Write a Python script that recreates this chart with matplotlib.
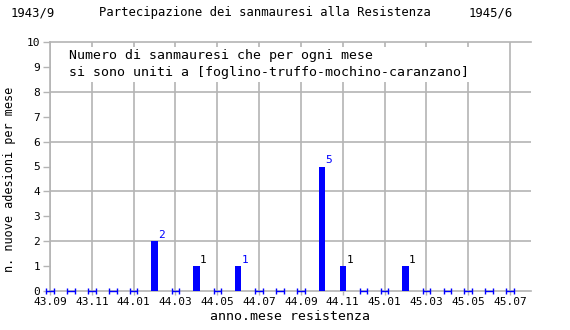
import matplotlib
matplotlib.use("Agg")
from matplotlib import pyplot as plt
import numpy as np

months = ["43.09", "43.10", "43.11", "43.12", "44.01", "44.02", "44.03", "44.04",
          "44.05", "44.06", "44.07", "44.08", "44.09", "44.10", "44.11", "44.12",
          "45.01", "45.02", "45.03", "45.04", "45.05", "45.06", "45.07"]
adesioni = [0, 0, 0, 0, 0, 2, 0, 1, 0, 1, 0, 0, 0, 5, 1, 0, 0, 1, 0, 0, 0, 0, 0]
label_colors = {5: "blue", 7: "black", 9: "blue", 13: "blue", 14: "black", 17: "black"}

plt.rcParams['font.family'] = ['DejaVu Sans Mono']
grey = "#b4b4b4"

fig = plt.figure(figsize=(5.7, 3.3), dpi=100)
ax = fig.add_axes([50 / 570, 1 - 291 / 330, 481 / 570, 249 / 330])

x = np.arange(len(months))
vals = np.array(adesioni)

ax.set_xlim(0, len(months))
ax.set_ylim(0, 10)

ax.set_xticks(x[::2])
ax.set_xticklabels(months[::2], fontsize=8)
ax.set_yticks(range(0, 11))
ax.set_yticklabels([str(i) for i in range(0, 11)], fontsize=8)
for yy in range(2, 10, 2):
    ax.axhline(yy, color=grey, lw=1.2, zorder=1)
for xx in x[::2]:
    ax.axvline(xx, color=grey, lw=1.2, zorder=1)

for s in ["right", "bottom"]:
    ax.spines[s].set_visible(False)
ax.spines["top"].set_color(grey)
ax.spines["left"].set_color(grey)
ax.spines["top"].set_linewidth(1.2)
ax.spines["left"].set_linewidth(1.2)
ax.spines["top"].set_zorder(5)
ax.axhline(0, color=grey, lw=1.2, zorder=1, clip_on=False)
ax.tick_params(axis="y", colors=grey, labelcolor="black", length=5, width=1, pad=2)
ax.tick_params(axis="x", colors=grey, labelcolor="black", length=3, width=1, pad=1.5)

nz = vals > 0
ax.bar(x[nz], vals[nz], width=0.3, color="blue", zorder=3)
eb = ax.errorbar(x[~nz], vals[~nz], xerr=0.18, fmt="none", ecolor="blue",
                 capsize=2, elinewidth=1, capthick=1, zorder=3)
for art in eb.lines[1] + eb.lines[2]:
    art.set_clip_on(False)

for i, c in label_colors.items():
    ax.annotate(str(adesioni[i]), (x[i], vals[i]), xytext=(2.5, 1),
                textcoords="offset points", color=c, fontsize=8,
                ha="left", va="bottom")

ax.text(0.04, 0.97, "Numero di sanmauresi che per ogni mese\n"
        "si sono uniti a [foglino-truffo-mochino-caranzano]",
        transform=ax.transAxes, fontsize=9.5, va="top", ha="left",
        linespacing=1.4, zorder=4,
        bbox=dict(facecolor="white", edgecolor="none", pad=2))

ax.set_xlabel("anno.mese resistenza", fontsize=9.5, labelpad=2)
ax.set_ylabel("n. nuove adesioni per mese", fontsize=8.5)
ax.yaxis.set_label_coords(-0.07, 0.45)

fig.text(0.018, 0.962, "1943/9", fontsize=8.8, ha="left", va="center")
fig.text(265 / 570, 0.962, "Partecipazione dei sanmauresi alla Resistenza",
         fontsize=8.8, ha="center", va="center")
fig.text(513 / 570, 0.962, "1945/6", fontsize=8.8, ha="right", va="center")

fig.savefig("out.png", dpi=100, facecolor="white")
